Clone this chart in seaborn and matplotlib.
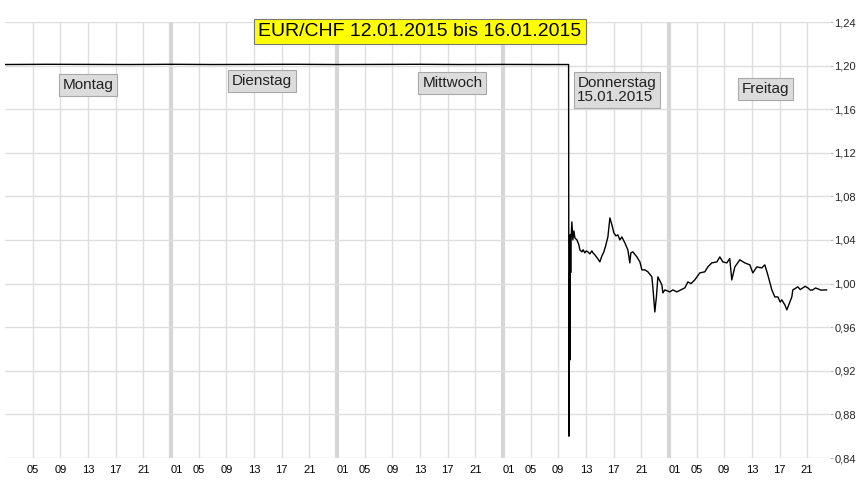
import numpy as np
import pandas as pd
import matplotlib
matplotlib.use("Agg")
import matplotlib.pyplot as plt
import seaborn as sns

# ------------------------------------------
# Data: EUR/CHF, hours since Mon 12.01.2015 00:00 (UTC axis)
# ------------------------------------------
hours = [
    0.0, 6.0, 12.0, 18.0, 24.0, 30.0, 36.0, 42.0, 48.0, 54.0, 60.0, 66.0, 72.0, 78.0, 81.50,
    81.55, 81.60, 81.65, 81.70, 81.75, 81.80, 81.85, 81.97, 82.12, 82.26, 82.41,
    82.70, 82.99, 83.13, 83.42, 83.60, 83.85, 84.05, 84.29, 84.58, 84.86, 85.05,
    85.30, 85.73, 86.02, 86.31, 86.60, 86.89, 87.18, 87.47, 87.76, 88.05, 88.34,
    88.62, 88.91, 89.20, 89.64, 90.07, 90.36, 90.50, 90.79, 91.37, 91.81, 92.10,
    92.53, 92.97, 93.54, 93.69, 93.97, 94.20, 94.41, 94.99, 95.13, 95.42, 96.14,
    96.58, 97.16, 98.31, 98.75, 99.20, 99.75, 100.47, 101.20, 101.63, 102.21, 102.94,
    103.37, 103.80, 104.38, 104.80, 105.10, 105.54, 106.26, 106.98, 107.71, 108.14,
    108.72, 109.44, 109.87, 110.31, 110.89, 111.32, 111.76, 112.10, 112.33, 112.77,
    113.06, 113.78, 113.92, 114.65, 115.00, 115.37, 115.70, 116.09, 116.45, 116.81,
    117.20, 117.53, 118.00, 118.55, 118.84,
]
rate = [
    1.2010, 1.2012, 1.2011, 1.2010, 1.2012, 1.2010, 1.2011, 1.2012, 1.2010, 1.2011, 1.2012, 1.2010, 1.2011, 1.2010, 1.2010,
    0.8600, 0.9200, 1.0100, 0.9300, 1.0450, 1.0100, 1.0400, 1.0566, 1.0401, 1.0483, 1.0419,
    1.0401, 1.0355, 1.0309, 1.0291, 1.0310, 1.0282, 1.0300, 1.0291, 1.0273, 1.0300, 1.0280,
    1.0264, 1.0227, 1.0199, 1.0254, 1.0291, 1.0355, 1.0428, 1.0603, 1.0539, 1.0465, 1.0438,
    1.0447, 1.0401, 1.0428, 1.0373, 1.0309, 1.0190, 1.0282, 1.0291, 1.0245, 1.0199, 1.0126,
    1.0126, 1.0108, 1.0062, 0.9961, 0.9740, 0.9880, 1.0062, 0.9988, 0.9915, 0.9942, 0.9924,
    0.9942, 0.9924, 0.9961, 1.0016, 1.0000, 1.0034, 1.0098, 1.0108, 1.0153, 1.0190, 1.0199,
    1.0245, 1.0199, 1.0190, 1.0230, 1.0034, 1.0153, 1.0218, 1.0190, 1.0172, 1.0098,
    1.0153, 1.0144, 1.0172, 1.0080, 0.9942, 0.9878, 0.9878, 0.9830, 0.9851, 0.9805,
    0.9759, 0.9878, 0.9942, 0.9970, 0.9945, 0.9961, 0.9975, 0.9961, 0.9940, 0.9942,
    0.9960, 0.9952, 0.9940, 0.9942, 0.9942,
]

hour_ticks = [4, 8, 12, 16, 20]
hour_labels = ["05", "09", "13", "17", "21"]
day_names = ["Montag", "Dienstag", "Mittwoch", "Donnerstag\n15.01.2015", "Freitag"]
y_ticks = [0.84, 0.88, 0.92, 0.96, 1.00, 1.04, 1.08, 1.12, 1.16, 1.20, 1.24]
title = "EUR/CHF 12.01.2015 bis 16.01.2015"

df = pd.DataFrame({"Stunde": hours, "Kurs": rate})

# ------------------------------------------
# Plot
# ------------------------------------------
sns.set_style("white")
plt.rcParams["font.family"] = ["Liberation Sans", "DejaVu Sans"]

fig = plt.figure(figsize=(8.57, 4.83), dpi=100)
ax = fig.add_axes([5 / 857, 1 - 458 / 483, 825 / 857, 436 / 483])

grid_col = "#dedede"
for d in range(5):
    for t in hour_ticks:
        ax.axvline(24 * d + t, color=grid_col, lw=1, zorder=0)
    if d > 0:
        ax.axvline(24 * d, color="#d6d6d6", lw=3, zorder=0)
for v in y_ticks:
    ax.axhline(v, color=grid_col, lw=1, zorder=0)

sns.lineplot(data=df, x="Stunde", y="Kurs", ax=ax, color="black", lw=1.0,
             estimator=None, sort=False, legend=False)

ax.set_xlim(0, 119.3)
ax.set_ylim(0.84, 1.24)

# x ticks: hours of each day, plus "01" right after each day separator
xt = [24 * d + t for d in range(5) for t in hour_ticks]
xl = hour_labels * 5
xt_minor = [24 * d + 0.85 for d in range(1, 5)]
ax.set_xticks(xt)
ax.set_xticklabels(xl)
ax.set_xticks(xt_minor, minor=True)
ax.set_xticklabels(["01"] * len(xt_minor), minor=True)
ax.tick_params(axis="x", which="both", length=0, pad=5, labelsize=8, colors="black")

ax.yaxis.tick_right()
ax.set_yticks(y_ticks)
ax.set_yticklabels([f"{v:.2f}".replace(".", ",") for v in y_ticks])
ax.tick_params(axis="y", length=2, width=0.8, color="#bbbbbb", pad=1, labelsize=8)

ax.set_xlabel("")
ax.set_ylabel("")
for s in ax.spines.values():
    s.set_visible(False)

# day boxes
box = dict(boxstyle="square,pad=0.25", facecolor="#dcdcdc", edgecolor="#a8a8a8", lw=0.8)
day_pos = [(0.100, 0.856), (0.310, 0.865), (0.539, 0.860), (0.737, 0.844), (0.916, 0.846)]
for name, (px, py) in zip(day_names, day_pos):
    ax.text(px * 830 / 825, py, name, transform=ax.transAxes, ha="center", va="center",
            fontsize=11, color="#222222", bbox=box, multialignment="left",
            linespacing=0.95, zorder=5)

ax.text(415 / 825, 0.979, title, transform=ax.transAxes, ha="center", va="center",
        fontsize=14, color="black", zorder=6,
        bbox=dict(boxstyle="square,pad=0.2", facecolor="#ffff00", edgecolor="#777777", lw=0.8))

fig.savefig("out.png", dpi=100)
